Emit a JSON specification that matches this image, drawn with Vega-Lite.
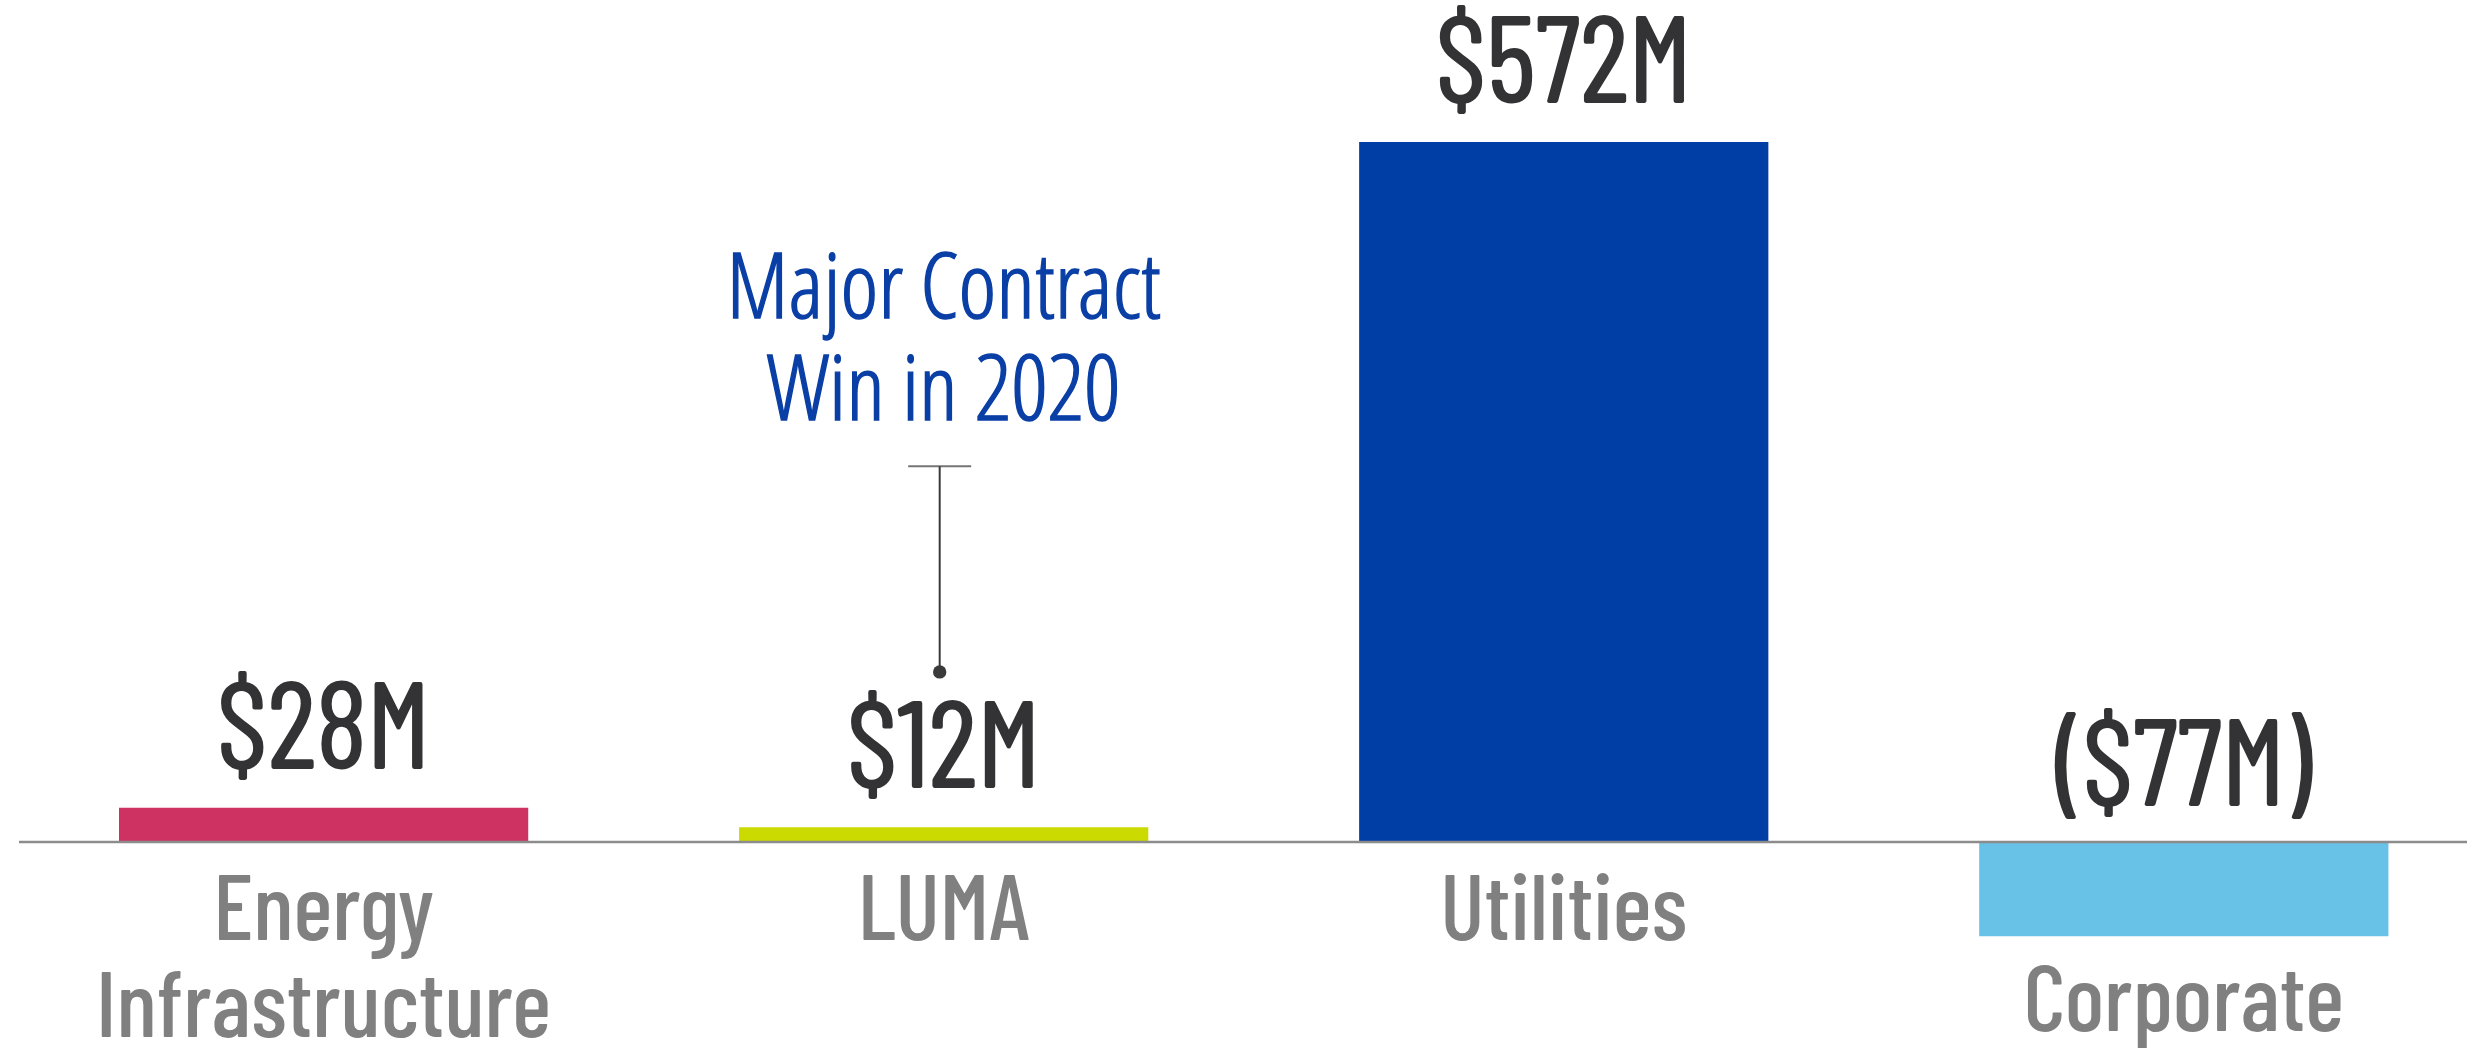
{
  "$schema": "https://vega.github.io/schema/vega-lite/v6.json",
  "autosize": {"type": "none"},
  "width": 2448,
  "height": 1048,
  "padding": {"left": 19, "top": 0, "right": 0, "bottom": 0},
  "background": "white",
  "config": {"view": {"stroke": null}},
  "data": {
    "values": [
      {"segment": "Energy Infrastructure", "name": "Energy\nInfrastructure", "value": 28, "label": "$28M"},
      {"segment": "LUMA", "name": "LUMA", "value": 12, "label": "$12M"},
      {"segment": "Utilities", "name": "Utilities", "value": 572, "label": "$572M"},
      {"segment": "Corporate", "name": "Corporate", "value": -77, "label": "($77M)"}
    ]
  },
  "layer": [
    {
      "mark": {"type": "bar"},
      "encoding": {
        "x": {
          "field": "segment", "type": "nominal", "axis": null,
          "scale": {"domain": ["Energy Infrastructure", "LUMA", "Utilities", "Corporate"], "paddingInner": 0.34, "paddingOuter": 0.144, "align": 0.56}
        },
        "y": {"field": "value", "type": "quantitative", "axis": null, "scale": {"domain": [-168.3, 688], "nice": false, "zero": false}},
        "y2": {"datum": 0},
        "color": {
          "field": "segment", "type": "nominal", "legend": null,
          "scale": {"domain": ["Energy Infrastructure", "LUMA", "Utilities", "Corporate"], "range": ["#CD3262", "#CBDA00", "#003DA5", "#68C1E6"]}
        }
      }
    },
    {
      "data": {"values": [{}]},
      "mark": {"type": "rule", "color": "#8c8c8c", "strokeWidth": 2.5},
      "encoding": {"y": {"datum": 0, "type": "quantitative"}}
    },
    {
      "transform": [{"filter": "datum.value >= 0"}],
      "mark": {"type": "text", "baseline": "alphabetic", "align": "center", "dy": -40, "fontSize": 121, "fontWeight": 400, "font": "Barlow Condensed", "color": "#333335", "stroke": "#333335", "strokeWidth": 1.8},
      "encoding": {
        "x": {"field": "segment", "type": "nominal"},
        "y": {"field": "value", "type": "quantitative"},
        "text": {"field": "label"}
      }
    },
    {
      "transform": [{"filter": "datum.value < 0"}],
      "mark": {"type": "text", "baseline": "alphabetic", "align": "center", "dy": -37, "fontSize": 121, "fontWeight": 400, "font": "Barlow Condensed", "color": "#333335", "stroke": "#333335", "strokeWidth": 1.8},
      "encoding": {
        "x": {"field": "segment", "type": "nominal"},
        "y": {"datum": 0, "type": "quantitative"},
        "text": {"field": "label"}
      }
    },
    {
      "transform": [{"filter": "datum.value >= 0"}],
      "mark": {"type": "text", "baseline": "alphabetic", "align": "center", "dy": 98, "fontSize": 93, "fontWeight": 500, "lineHeight": 97, "lineBreak": "\n", "font": "Barlow Condensed", "color": "#808080"},
      "encoding": {
        "x": {"field": "segment", "type": "nominal"},
        "y": {"datum": 0, "type": "quantitative"},
        "text": {"field": "name"}
      }
    },
    {
      "transform": [{"filter": "datum.value < 0"}],
      "mark": {"type": "text", "baseline": "alphabetic", "align": "center", "dy": 95, "fontSize": 93, "fontWeight": 500, "font": "Barlow Condensed", "color": "#808080"},
      "encoding": {
        "x": {"field": "segment", "type": "nominal"},
        "y": {"field": "value", "type": "quantitative"},
        "text": {"field": "name"}
      }
    },
    {
      "data": {"values": [{"note": "Major Contract\nWin in 2020"}]},
      "mark": {"type": "text", "baseline": "alphabetic", "align": "center", "fontSize": 91, "lineHeight": 102, "lineBreak": "\n", "font": "Open Sans Condensed Light", "color": "#0A3FA6", "stroke": "#0A3FA6", "strokeWidth": 1.4},
      "encoding": {
        "x": {"datum": "LUMA", "type": "nominal"},
        "y": {"datum": 428, "type": "quantitative"},
        "text": {"field": "note"}
      }
    },
    {
      "data": {"values": [{}]},
      "mark": {"type": "rule", "color": "#3a3a3a", "strokeWidth": 2, "xOffset": -4},
      "encoding": {
        "x": {"datum": "LUMA", "type": "nominal"},
        "y": {"datum": 307, "type": "quantitative"},
        "y2": {"datum": 139}
      }
    },
    {
      "data": {"values": [{}]},
      "mark": {"type": "tick", "color": "#3a3a3a", "thickness": 2, "size": 63, "xOffset": -4},
      "encoding": {
        "x": {"datum": "LUMA", "type": "nominal"},
        "y": {"datum": 307, "type": "quantitative"}
      }
    },
    {
      "data": {"values": [{}]},
      "mark": {"type": "point", "filled": true, "opacity": 1, "color": "#3a3a3a", "size": 180, "xOffset": -4},
      "encoding": {
        "x": {"datum": "LUMA", "type": "nominal"},
        "y": {"datum": 139, "type": "quantitative"}
      }
    }
  ]
}
